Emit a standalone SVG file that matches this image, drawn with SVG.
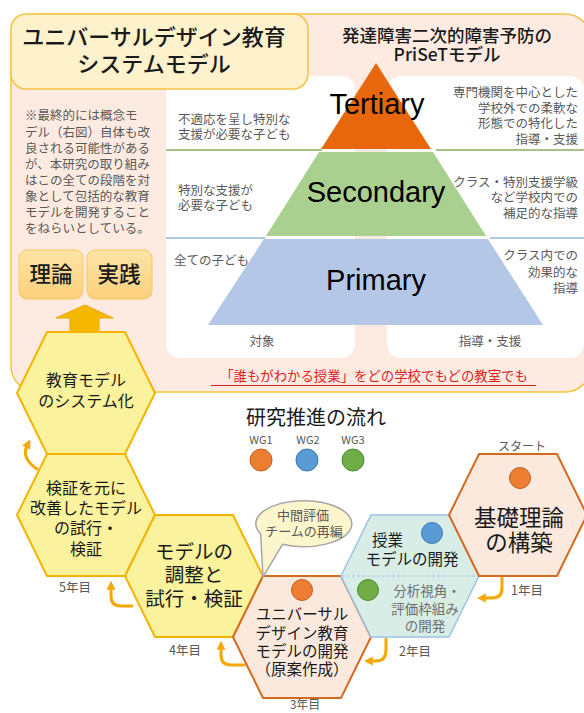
<svg xmlns="http://www.w3.org/2000/svg" width="584" height="713" viewBox="0 0 584 713">
<defs>
<style>
.jp{font-family:"Noto Sans CJK JP","Noto Sans",sans-serif}
.lat{font-family:"Liberation Sans",Arial,sans-serif}
.g{fill:#595959;font-size:12.5px}
.dk{fill:#1a1a1a}
.hy{fill:#faf29c;stroke:#f5b301;stroke-width:2}
.hp{fill:#fce9dd;stroke:#d4691f;stroke-width:2}
.arr{fill:none;stroke:#f5a800;stroke-width:3;stroke-linecap:round}
.dO{fill:#ed7d31;stroke:#c0601f;stroke-width:1}
.dB{fill:#5b9bd5;stroke:#3b78b0;stroke-width:1}
.dG{fill:#70ad47;stroke:#4e8a2f;stroke-width:1}
.c{text-anchor:middle}
.r{text-anchor:end}
</style>
<marker id="ah" viewBox="0 0 10 10" refX="2" refY="5" markerWidth="9" markerHeight="10" markerUnits="userSpaceOnUse" orient="auto">
<path d="M0,0 L10,5 L0,10 Z" fill="#f5a800"/>
</marker>
<linearGradient id="bx" x1="0" y1="0" x2="0" y2="1">
<stop offset="0" stop-color="#fee4a6"/>
<stop offset="1" stop-color="#fbd07c"/>
</linearGradient>
</defs>

<g id="background">
<rect x="11" y="14" width="580" height="378" rx="26" fill="#fdebe1" stroke="#f5c342" stroke-width="1.5"/>
<rect x="166" y="76" width="189" height="282" rx="14" fill="#ffffff"/>
<rect x="387" y="76" width="197" height="282" rx="14" fill="#ffffff"/>
<line x1="166" y1="150" x2="322" y2="150" stroke="#a9c08a" stroke-width="2"/>
<line x1="436" y1="150" x2="584" y2="150" stroke="#a9c08a" stroke-width="2"/>
<line x1="166" y1="238" x2="265" y2="238" stroke="#b0c8e8" stroke-width="2"/>
<line x1="490" y1="238" x2="584" y2="238" stroke="#b0c8e8" stroke-width="2"/>
</g>

<g id="title">
<rect x="11" y="14" width="297" height="75" rx="15" fill="#fdf2cc" stroke="#f5c342" stroke-width="1.5"/>
<text class="jp c dk" x="154" y="45" font-size="22" font-weight="500">ユニバーサルデザイン教育</text>
<text class="jp c dk" x="154" y="72" font-size="22" font-weight="500">システムモデル</text>
</g>

<g id="priset-title">
<text class="jp c dk" x="447" y="42" font-size="17.5" font-weight="500">発達障害二次的障害予防の</text>
<text class="jp c dk" x="447" y="61" font-size="17.5" font-weight="500">PriSeTモデル</text>
</g>

<g id="pyramid">
<polygon points="376,63 431,149 321,149" fill="#e8670c"/>
<polygon points="319,152 433,152 486,236 266,236" fill="#a9d08e"/>
<polygon points="264,239 488,239 543,325 208,325" fill="#b4c7e7"/>
<text class="lat c" x="377" y="114" font-size="29" fill="#000">Tertiary</text>
<text class="lat c" x="376" y="202" font-size="29" fill="#000">Secondary</text>
<text class="lat c" x="376" y="290" font-size="29" fill="#000">Primary</text>
</g>

<g id="target-labels">
<text class="jp g" x="178" y="124">不適応を呈し特別な</text>
<text class="jp g" x="178" y="139">支援が必要な子ども</text>
<text class="jp g" x="178" y="195">特別な支援が</text>
<text class="jp g" x="178" y="210">必要な子ども</text>
<text class="jp g" x="174" y="265">全ての子ども</text>
<text class="jp g c" x="262" y="346">対象</text>
</g>

<g id="support-labels">
<text class="jp g r" x="578" y="97">専門機関を中心とした</text>
<text class="jp g r" x="578" y="113">学校外での柔軟な</text>
<text class="jp g r" x="578" y="128">形態での特化した</text>
<text class="jp g r" x="578" y="144">指導・支援</text>
<text class="jp g r" x="578" y="187">クラス・特別支援学級</text>
<text class="jp g r" x="578" y="202">など学校内での</text>
<text class="jp g r" x="578" y="218">補足的な指導</text>
<text class="jp g r" x="578" y="260">クラス内での</text>
<text class="jp g r" x="578" y="277">効果的な</text>
<text class="jp g r" x="578" y="293">指導</text>
<text class="jp g c" x="490" y="346">指導・支援</text>
</g>

<g id="note">
<text class="jp g" x="25" y="120" font-size="12.7">※最終的には概念モ</text>
<text class="jp g" x="25" y="137" font-size="12.7">デル（右図）自体も改</text>
<text class="jp g" x="25" y="153" font-size="12.7">良される可能性がある</text>
<text class="jp g" x="25" y="169" font-size="12.7">が、本研究の取り組み</text>
<text class="jp g" x="25" y="185" font-size="12.7">はこの全ての段階を対</text>
<text class="jp g" x="25" y="201" font-size="12.7">象として包括的な教育</text>
<text class="jp g" x="25" y="217" font-size="12.7">モデルを開発すること</text>
<text class="jp g" x="25" y="233" font-size="12.7">をねらいとしている。</text>
</g>

<g id="theory">
<rect x="19" y="250" width="64" height="49" rx="8" fill="url(#bx)" stroke="#f7c860" stroke-width="1"/>
<text class="jp c dk" x="51" y="282" font-size="21.5" font-weight="500">理論</text>
</g>
<g id="practice">
<rect x="87" y="250" width="65" height="49" rx="8" fill="url(#bx)" stroke="#f7c860" stroke-width="1"/>
<text class="jp c dk" x="119" y="282" font-size="21.5" font-weight="500">実践</text>
</g>

<g id="slogan">
<text class="jp c" x="374" y="381" font-size="13.4" fill="#e0201e">「誰もがわかる授業」をどの学校でもどの教室でも</text>
<line x1="211" y1="385.5" x2="536" y2="385.5" stroke="#e0201e" stroke-width="1.2"/>
</g>

<g id="up-arrow">
<polygon points="85,305 113,318 99,318 99,333 70,333 70,318 56,318" fill="#f5b800" stroke="#e8a800" stroke-width="1"/>
</g>

<g id="flow-title">
<text class="jp dk" x="246" y="425" font-size="20">研究推進の流れ</text>
<text class="jp c" x="261" y="444" font-size="11" fill="#595959">WG1</text>
<text class="jp c" x="308" y="444" font-size="11" fill="#595959">WG2</text>
<text class="jp c" x="353" y="444" font-size="11" fill="#595959">WG3</text>
<circle class="dO" cx="261" cy="460" r="11"/>
<circle class="dB" cx="307" cy="460" r="11"/>
<circle class="dG" cx="353" cy="460" r="11"/>
</g>

<g id="connectors">
<path class="arr" d="M502 578 L502 588 Q502 598 492 598 L484 598" marker-end="url(#ah)"/>
<path class="arr" d="M386 639 L386 650 Q386 661 376 661 L371 661" marker-end="url(#ah)"/>
<path class="arr" d="M244 665 L231 665 Q221 665 221 655 L221 648" marker-end="url(#ah)"/>
<path class="arr" d="M132 606 L121 606 Q111 606 111 596 L111 588" marker-end="url(#ah)"/>
<path class="arr" d="M37 469 Q21 458 27 446" marker-end="url(#ah)"/>
</g>

<g id="hex-system">
<polygon class="hy" points="47,332 125,332 155,393 125,454 47,454 17,393"/>
<text class="jp c dk" x="86" y="386" font-size="16">教育モデル</text>
<text class="jp c dk" x="86" y="407" font-size="16">のシステム化</text>
</g>

<g id="hex-improve">
<polygon class="hy" points="47,454 125,454 155,515 125,576 47,576 17,515"/>
<text class="jp c dk" x="86" y="494" font-size="16">検証を元に</text>
<text class="jp c dk" x="86" y="514" font-size="16">改善したモデル</text>
<text class="jp c dk" x="86" y="534" font-size="16">の試行・</text>
<text class="jp c dk" x="86" y="555" font-size="16">検証</text>
<text class="jp c" x="75" y="592" font-size="12.5" fill="#595959">5年目</text>
</g>

<g id="hex-adjust">
<polygon class="hy" points="155,515 233,515 263,576 233,637 155,637 125,576"/>
<text class="jp c dk" x="194" y="559" font-size="19.5">モデルの</text>
<text class="jp c dk" x="194" y="582" font-size="19.5">調整と</text>
<text class="jp c dk" x="194" y="606" font-size="19.5">試行・検証</text>
<text class="jp c" x="185" y="655" font-size="12.5" fill="#595959">4年目</text>
</g>

<g id="hex-ud-model">
<polygon class="hp" points="263,576 341,576 371,637 341,698 263,698 233,637"/>
<circle class="dO" cx="302" cy="590" r="10.5"/>
<text class="jp c dk" x="302" y="620" font-size="15.5">ユニバーサル</text>
<text class="jp c dk" x="302" y="639" font-size="15.5">デザイン教育</text>
<text class="jp c dk" x="302" y="657" font-size="15.5">モデルの開発</text>
<text class="jp c dk" x="302" y="675" font-size="15.5">（原案作成）</text>
<text class="jp c" x="305" y="709" font-size="12" fill="#595959">3年目</text>
</g>

<g id="hex-lesson">
<polygon points="371,515 449,515 479,576 449,637 371,637 341,576" fill="#d7ede6" stroke="#9dc3e6" stroke-width="1.5"/>
<line x1="342" y1="576" x2="478" y2="576" stroke="#9dc3e6" stroke-width="1.2" stroke-dasharray="3,2"/>
<circle class="dB" cx="432" cy="533" r="10.5"/>
<text class="jp dk" x="372" y="546" font-size="15.5">授業</text>
<text class="jp c dk" x="412" y="565" font-size="15.5">モデルの開発</text>
<circle class="dG" cx="368" cy="590" r="10.5"/>
<text class="jp c" x="427" y="596" font-size="13.5" fill="#707070">分析視角・</text>
<text class="jp c" x="425" y="614" font-size="13.5" fill="#707070">評価枠組み</text>
<text class="jp c" x="425" y="631" font-size="13.5" fill="#707070">の開発</text>
<text class="jp c" x="415" y="656" font-size="12.5" fill="#595959">2年目</text>
</g>

<g id="hex-theory">
<polygon class="hp" points="479,454 557,454 587,515 557,576 479,576 449,515"/>
<circle class="dO" cx="520" cy="478" r="10.5"/>
<text class="jp c dk" x="519" y="526" font-size="22.5">基礎理論</text>
<text class="jp c dk" x="519" y="551" font-size="22.5">の構築</text>
<text class="jp c" x="522" y="451" font-size="12" fill="#595959">スタート</text>
<text class="jp c" x="527" y="595" font-size="12.5" fill="#595959">1年目</text>
</g>

<g id="bubble">
<path d="M260.6 533.7 A48 23 0 1 1 282.5 544.3 L263 577 Z" fill="#fdf6cc" stroke="#a6a6a6" stroke-width="1.5"/>
<text class="jp c" x="303" y="520" font-size="13" fill="#595959">中間評価</text>
<text class="jp c" x="304" y="536" font-size="13" fill="#595959">チームの再編</text>
</g>
</svg>
